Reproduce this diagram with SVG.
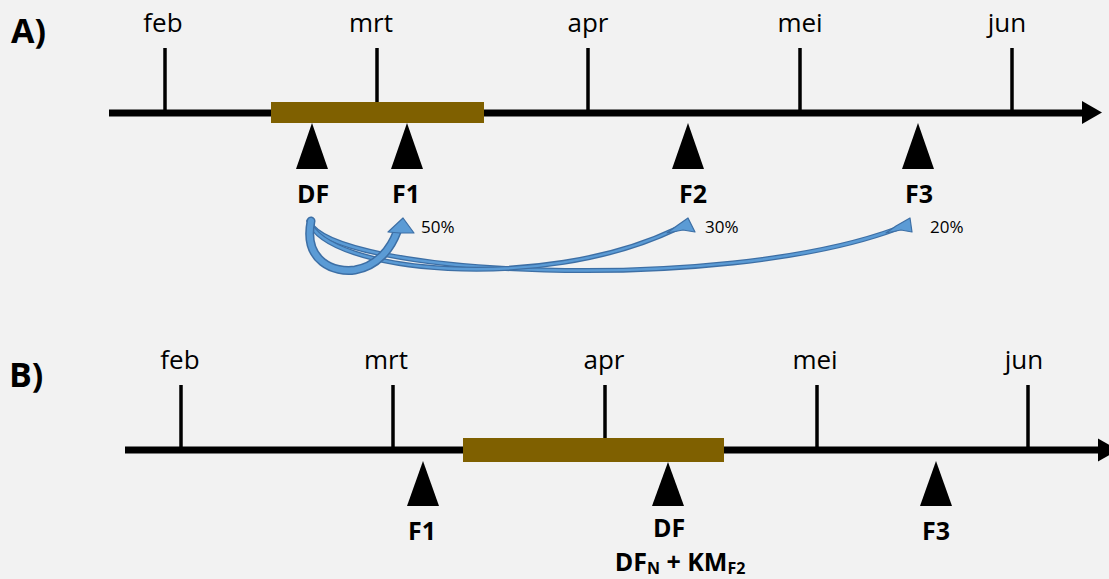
<svg xmlns="http://www.w3.org/2000/svg" width="1109" height="579" viewBox="0 0 1109 579">
  <defs>
    <style>
      .axis { stroke: #000; stroke-width: 7; fill: none; }
      .tick { stroke: #000; stroke-width: 3.5; }
      .bar { fill: #7f6000; }
      .tri { fill: #000; }
      .month { font-family: "Open Sans", "Liberation Sans", sans-serif; font-size: 26px; fill: #000; text-anchor: middle; }
      .lbl { font-family: "Open Sans", "Liberation Sans", sans-serif; font-size: 25px; font-weight: bold; fill: #000; text-anchor: middle; }
      .panel { font-family: "Open Sans", "Liberation Sans", sans-serif; font-size: 34px; font-weight: bold; fill: #000; }
      .pct { font-family: "Open Sans", "Liberation Sans", sans-serif; font-size: 17px; fill: #000; }
      .flowEdge { fill: none; stroke: #3d6fa5; stroke-linecap: round; }
      .flowCore { fill: none; stroke: #5b9bd5; stroke-linecap: round; }
      .head { fill: #5b9bd5; stroke: #3d6fa5; stroke-width: 1.2; stroke-linejoin: round; }
    </style>
  </defs>
  <rect width="1109" height="579" fill="#f2f2f2"/>

  <!-- Panel A -->
  <g id="panel-a">
    <text class="panel" x="11" y="43">A)</text>
    <g id="axis-a">
      <line class="axis" x1="109" y1="113" x2="1084" y2="113"/>
      <polygon class="tri" points="1082,101 1102,112.5 1082,124"/>
      <line class="tick" x1="165" y1="48" x2="165" y2="113"/>
      <line class="tick" x1="377" y1="48" x2="377" y2="113"/>
      <line class="tick" x1="588" y1="48" x2="588" y2="113"/>
      <line class="tick" x1="800" y1="48" x2="800" y2="113"/>
      <line class="tick" x1="1012" y1="48" x2="1012" y2="113"/>
      <text class="month" x="163" y="32">feb</text>
      <text class="month" x="371" y="32">mrt</text>
      <text class="month" x="588" y="32">apr</text>
      <text class="month" x="800" y="32">mei</text>
      <text class="month" x="1007" y="32">jun</text>
      <rect class="bar" x="271" y="102" width="213" height="21"/>
    </g>
    <g id="a-df">
      <polygon class="tri" points="312,123 296,169 328,169"/>
      <text class="lbl" x="313" y="203">DF</text>
    </g>
    <g id="a-f1">
      <polygon class="tri" points="407,123 391,169 423,169"/>
      <text class="lbl" x="406" y="203">F1</text>
      <text class="pct" x="421" y="233">50%</text>
    </g>
    <g id="a-f2">
      <polygon class="tri" points="688,123 672,169 704,169"/>
      <text class="lbl" x="693" y="203">F2</text>
      <text class="pct" x="705" y="233">30%</text>
    </g>
    <g id="a-f3">
      <polygon class="tri" points="918,123 902,169 934,169"/>
      <text class="lbl" x="919" y="203">F3</text>
      <text class="pct" x="930" y="233">20%</text>
    </g>
  </g>

  <!-- Share arrows from DF to the follow-up moments -->
  <g id="connectors">
    <g id="flow-f3">
      <path class="flowEdge" stroke-width="5" d="M309,221 C330,276 720,294 896,229"/>
      <path class="flowCore" stroke-width="2.4" d="M309,221 C330,276 720,294 896,229"/>
      <polygon class="head" points="910,218 912,232 901,230 886,233 896,226"/>
    </g>
    <g id="flow-f2">
      <path class="flowEdge" stroke-width="5" d="M309,221 C326,272 540,294 676,229"/>
      <path class="flowCore" stroke-width="2.4" d="M309,221 C326,272 540,294 676,229"/>
      <polygon class="head" points="688,218 695,232 683,230 667,233 678,225"/>
    </g>
    <g id="flow-f1">
      <path class="flowEdge" stroke-width="9" d="M311,221 C303,262 335,273 355,270 C378,266 391,248 397,232"/>
      <path class="flowCore" stroke-width="6" d="M311,221 C303,262 335,273 355,270 C378,266 391,248 397,232"/>
      <polygon class="head" points="403,218 414,233 400,233 388,232"/>
    </g>
  </g>

  <!-- Panel B -->
  <g id="panel-b">
    <text class="panel" x="9" y="387">B)</text>
    <g id="axis-b">
      <line class="axis" x1="125" y1="450" x2="1100" y2="450"/>
      <polygon class="tri" points="1098,438.5 1118,450 1098,461.5"/>
      <line class="tick" x1="181" y1="385" x2="181" y2="450"/>
      <line class="tick" x1="393" y1="385" x2="393" y2="450"/>
      <line class="tick" x1="605" y1="385" x2="605" y2="450"/>
      <line class="tick" x1="817" y1="385" x2="817" y2="450"/>
      <line class="tick" x1="1028" y1="385" x2="1028" y2="450"/>
      <text class="month" x="180" y="369">feb</text>
      <text class="month" x="386" y="369">mrt</text>
      <text class="month" x="604" y="369">apr</text>
      <text class="month" x="815" y="369">mei</text>
      <text class="month" x="1024" y="369">jun</text>
      <rect class="bar" x="463" y="438" width="261" height="24"/>
    </g>
    <g id="b-f1">
      <polygon class="tri" points="423,461 407,506 439,506"/>
      <text class="lbl" x="422" y="540">F1</text>
    </g>
    <g id="b-df">
      <polygon class="tri" points="668,462 652,506 684,506"/>
      <text class="lbl" x="669" y="537">DF</text>
      <text class="lbl" x="680" y="571">DF<tspan font-size="16" dy="3">N</tspan><tspan dy="-3"> + KM</tspan><tspan font-size="16" dy="3">F2</tspan></text>
    </g>
    <g id="b-f3">
      <polygon class="tri" points="936,461 920,506 952,506"/>
      <text class="lbl" x="936" y="540">F3</text>
    </g>
  </g>
</svg>
